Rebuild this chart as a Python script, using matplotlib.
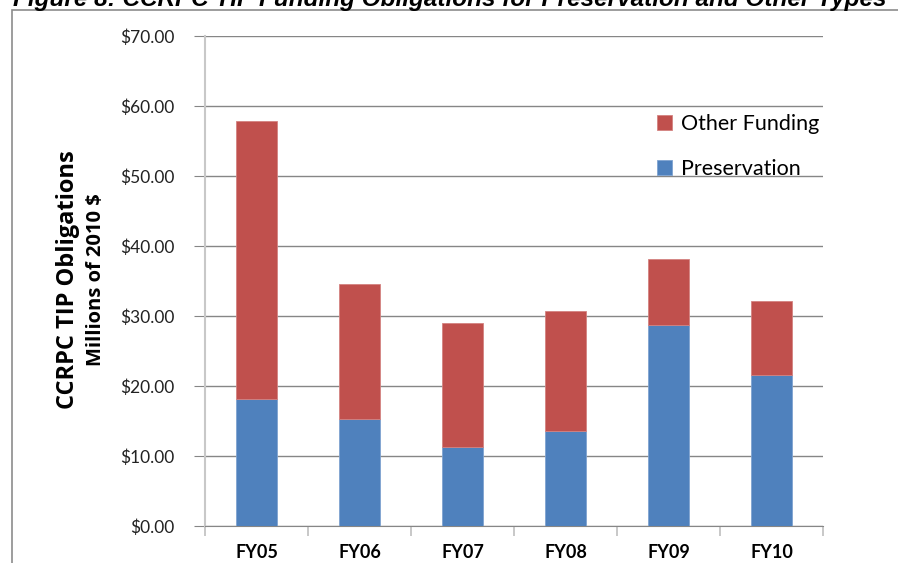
import numpy as np
import matplotlib
matplotlib.use('Agg')
import matplotlib.pyplot as plt
from matplotlib.patches import Rectangle

years = ['FY05', 'FY06', 'FY07', 'FY08', 'FY09', 'FY10']
preservation = [18.1, 15.3, 11.3, 13.6, 28.7, 21.6]
other_funding = [39.8, 19.3, 17.7, 17.1, 9.4, 10.5]
y_ticks = [0, 10, 20, 30, 40, 50, 60, 70]

BLUE = '#4F81BD'
RED = '#C0504D'
GRID = '#868686'

W, H = 898, 563
fig = plt.figure(figsize=(W / 100, H / 100), dpi=100)

# outer frame of the chart (runs off the right and bottom)
fig.patches.append(Rectangle((12 / W, -0.1), 1.0, 1 - 10 / H + 0.1,
                             transform=fig.transFigure, fill=False,
                             edgecolor='#8C8C8C', linewidth=1.2))

# caption, partly cut off at the top
fig.text(13 / W, 1 - 6 / H,
         'Figure 8: CCRPC TIP Funding Obligations for Preservation and Other Types',
         family='Liberation Sans', weight='bold', style='italic',
         fontsize=17.5, ha='left', va='baseline')

ax = fig.add_axes([205 / W, 1 - 526 / H, (823 - 205) / W, (526 - 36) / H])

x = np.arange(len(years))
ax.bar(x, preservation, width=0.4, color=BLUE, edgecolor='#7FA3D0',
       linewidth=0.6, label='Preservation', zorder=3)
ax.bar(x, other_funding, width=0.4, bottom=preservation, color=RED,
       edgecolor='#D48280', linewidth=0.6, label='Other Funding', zorder=3)

ax.set_xlim(-0.5, len(years) - 0.5)
ax.set_ylim(0, 70)
ax.set_yticks(y_ticks)
ax.set_yticklabels([f'${v:.2f}' for v in y_ticks], family='Lato',
                   fontsize=12.5, color='#222222')
ax.grid(axis='y', color=GRID, linewidth=1.0, zorder=0)

ax.set_xticks(x)
ax.set_xticklabels(years, family='Lato', weight='bold', fontsize=13)
ax.tick_params(axis='x', length=0, pad=13)
ax.tick_params(axis='y', length=8, color=GRID, pad=14)

# category separators below the x axis
ax.set_xticks(np.arange(len(years) + 1) - 0.5, minor=True)
ax.tick_params(axis='x', which='minor', length=7, color='#BFBFBF', width=1.2)

for side in ['top', 'right']:
    ax.spines[side].set_visible(False)
ax.spines['bottom'].set_color(GRID)
ax.spines['left'].set_color('#C8C8C8')
ax.spines['left'].set_linewidth(1.5)

fig.text(68 / W, 1 - 280 / H, 'CCRPC TIP Obligations', rotation=90,
         family='Open Sans', weight='bold', fontsize=17,
         ha='center', va='center')
fig.text(96 / W, 1 - 280 / H, 'Millions of 2010 $', rotation=90,
         family='Open Sans', weight='bold', fontsize=14.5,
         ha='center', va='center')

handles, labels = ax.get_legend_handles_labels()
leg = ax.legend(handles[::-1], labels[::-1], loc='upper left',
                bbox_to_anchor=(0.7, 0.88), frameon=False,
                prop={'family': 'Lato', 'size': 15.5},
                handlelength=0.7, handleheight=0.7, handletextpad=0.4,
                labelspacing=1.15)

fig.savefig('out.png', dpi=100)
